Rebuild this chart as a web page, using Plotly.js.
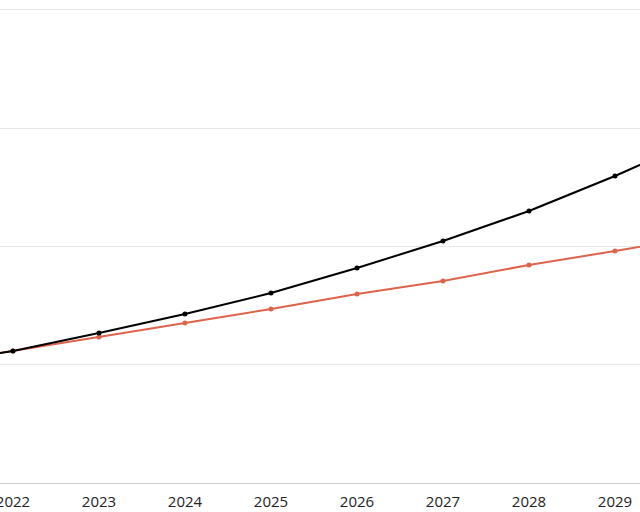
<!DOCTYPE html>
<html>
<head>
<meta charset="utf-8">
<script src="https://cdn.plot.ly/plotly-3.0.1.min.js"></script>
<style>html,body{margin:0;padding:0;background:#fff;}#chart{width:640px;height:512px;}</style>
</head>
<body>
<div id="chart"></div>
<script>
const years = [2021, 2022, 2023, 2024, 2025, 2026, 2027, 2028, 2029, 2030];
const seriesBlack = [1.0, 1.116, 1.268, 1.429, 1.606, 1.817, 2.046, 2.299, 2.595, 2.92];
const seriesRed = [1.0, 1.116, 1.234, 1.352, 1.471, 1.598, 1.708, 1.843, 1.961, 2.082];
const tickYears = [2022, 2023, 2024, 2025, 2026, 2027, 2028, 2029];

const traces = [
  {x: years, y: seriesRed, mode: 'lines+markers', line: {color: '#dd634b', width: 2}, marker: {size: 5, color: '#dd634b'}, hoverinfo: 'skip'},
  {x: years, y: seriesBlack, mode: 'lines+markers', line: {color: '#000000', width: 2}, marker: {size: 5, color: '#000000'}, hoverinfo: 'skip'}
];
const layout = {
  width: 640, height: 512,
  margin: {l: 0, r: 0, t: 0, b: 29, pad: 0},
  showlegend: false,
  paper_bgcolor: '#fff', plot_bgcolor: '#fff',
  xaxis: {range: [2021.849, 2029.291], tickvals: tickYears, ticktext: tickYears.map(String),
    showgrid: false, zeroline: false, showline: true, linecolor: '#cccccc', linewidth: 1,
    ticks: '', ticklabelstandoff: 5, ticklabeloverflow: 'allow',
    tickfont: {family: 'Open Sans, sans-serif', size: 15, color: '#222'}},
  yaxis: {range: [0, 4.083], tickvals: [1, 2, 3, 4], showticklabels: false, showgrid: true,
    gridcolor: '#e6e6e6', gridwidth: 1, zeroline: false, showline: false}
};
Plotly.newPlot('chart', traces, layout, {staticPlot: true, displayModeBar: false});
</script>
</body>
</html>
